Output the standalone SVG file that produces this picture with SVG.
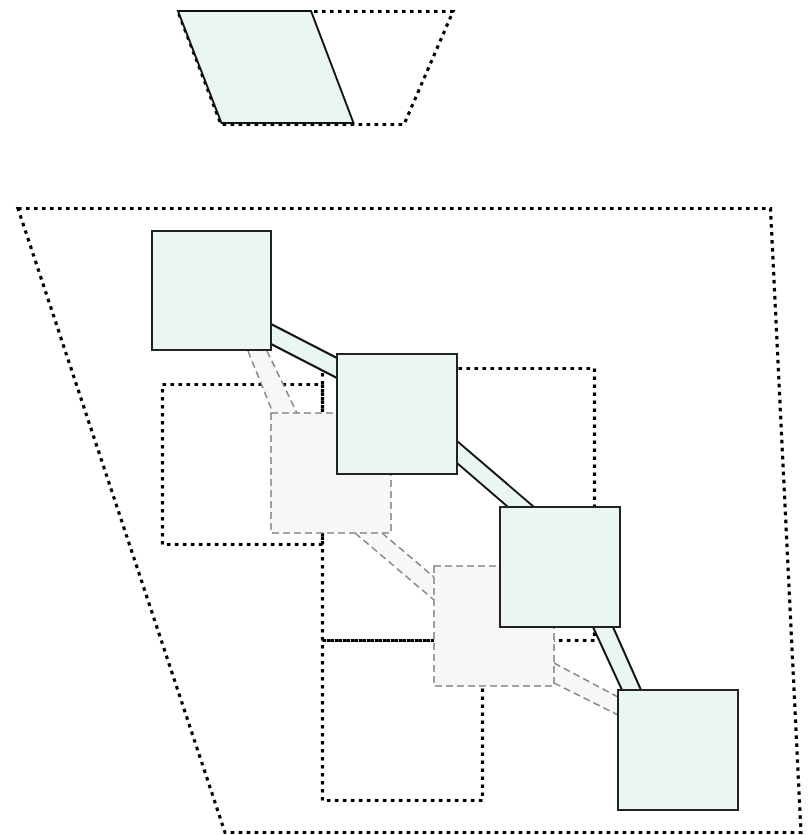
<svg xmlns="http://www.w3.org/2000/svg" width="809" height="835" viewBox="0 0 809 835">
<style>
.dot{fill:none;stroke:#000;stroke-width:3.2;stroke-dasharray:3.6 4.4}
.sq{fill:#eaf6f1;stroke:#222;stroke-width:2}
.gsq{fill:#f7f7f5;stroke:#888;stroke-width:1.6;stroke-dasharray:7 4}
.band{fill:#eaf6f1;stroke:none}
.gband{fill:#f7f7f5;stroke:none}
.bl{stroke:#111;stroke-width:2;fill:none}
.gl{stroke:#888;stroke-width:1.6;stroke-dasharray:7 4;fill:none}
</style>
<rect width="809" height="835" fill="#fff"/>
<g id="top-region">
<polygon class="dot" points="178,11.5 453,11.5 404,124.5 221,124.5"/>
</g>
<g id="top-shape">
<polygon points="178,11 311,11 353.5,123 221.5,123" fill="#eaf6f1" stroke="#111" stroke-width="2"/>
</g>
<g id="outer-region">
<polygon class="dot" points="18,208.5 770.5,208.5 801,832.5 225,832.5"/>
</g>
<g id="region-1"><rect class="dot" x="162.5" y="384.5" width="160" height="160"/></g>
<g id="region-2"><rect class="dot" x="322.5" y="368.5" width="272" height="272"/></g>
<g id="region-3"><rect class="dot" x="322.5" y="640.5" width="160" height="160"/></g>
<g id="connectors">
<polygon class="gband" points="248,351 267,351 297,413 273,413"/>
<line class="gl" x1="248" y1="351" x2="273" y2="413"/>
<line class="gl" x1="267" y1="351" x2="297" y2="413"/>
<polygon class="gband" points="355,533 382,533 434,577 434,600"/>
<line class="gl" x1="382" y1="533" x2="434" y2="577"/>
<line class="gl" x1="355" y1="533" x2="434" y2="600"/>
<polygon class="gband" points="554,663 618,697 618,715 554,683"/>
<line class="gl" x1="554" y1="663" x2="618" y2="697"/>
<line class="gl" x1="554" y1="683" x2="618" y2="715"/>
<polygon class="band" points="271,324 337,358 337,378 271,344"/>
<line class="bl" x1="271" y1="324" x2="337" y2="358"/>
<line class="bl" x1="271" y1="344" x2="337" y2="378"/>
<polygon class="band" points="457,441 534,507 508,507 457,463"/>
<line class="bl" x1="457" y1="441" x2="534" y2="507"/>
<line class="bl" x1="457" y1="463" x2="508" y2="507"/>
<polygon class="band" points="593,627 613,627 641,690 622,690"/>
<line class="bl" x1="593" y1="627" x2="622" y2="690"/>
<line class="bl" x1="613" y1="627" x2="641" y2="690"/>
</g>
<g id="node-e"><rect class="gsq" x="271" y="413" width="120" height="120"/></g>
<g id="node-f"><rect class="gsq" x="434" y="566" width="120" height="120"/></g>
<g id="node-a"><rect class="sq" x="152" y="231" width="119" height="119"/></g>
<g id="node-b"><rect class="sq" x="337" y="354" width="120" height="120"/></g>
<g id="node-c"><rect class="sq" x="500" y="507" width="120" height="120"/></g>
<g id="node-d"><rect class="sq" x="618" y="690" width="120" height="120"/></g>
</svg>
